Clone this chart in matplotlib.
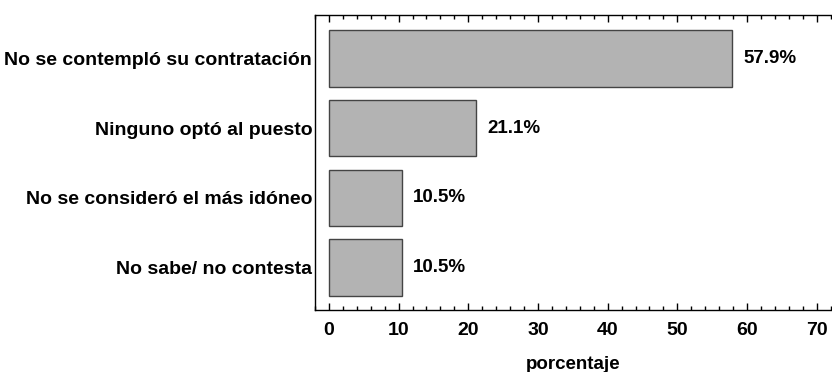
import matplotlib.pyplot as plt
from matplotlib.ticker import MultipleLocator

categories = ["No se contempló su contratación", "Ninguno optó al puesto",
              "No se consideró el más idóneo", "No sabe/ no contesta"]
values = [57.9, 21.1, 10.5, 10.5]
labels = ["57.9%", "21.1%", "10.5%", "10.5%"]

plt.rcParams['font.family'] = ['Liberation Sans', 'DejaVu Sans']
plt.rcParams['font.weight'] = 'bold'

fig = plt.figure(figsize=(8.32, 3.72), dpi=100)
ax = fig.add_axes([0.3786, 0.1667, 0.6214, 0.7938])

pos = list(range(len(categories)))
ax.barh(pos, values, height=0.81, color='#b3b3b3', edgecolor='#444444', linewidth=1)
for p, v, t in zip(pos, values, labels):
    ax.text(v + 1.6, p, t, va='center', ha='left', fontsize=13.5, fontweight='bold')

ax.set_xlim(-2.0, 72.2)
ax.set_ylim(3.61, -0.626)
ax.set_yticks(pos)
ax.set_yticklabels(categories, fontsize=14, fontweight='bold')
ax.tick_params(axis='y', length=0, pad=2)

ax.xaxis.set_major_locator(MultipleLocator(10))
ax.xaxis.set_minor_locator(MultipleLocator(2))
ax.tick_params(axis='x', which='major', direction='in', length=5, width=1, top=True, labelsize=14, pad=9)
ax.tick_params(axis='x', which='minor', direction='in', length=3, width=1, top=True)
for lab in ax.get_xticklabels():
    lab.set_fontweight('bold')

ax.spines['right'].set_visible(False)
for s in ['left', 'top', 'bottom']:
    ax.spines[s].set_linewidth(1)

ax.set_xlabel("porcentaje", fontsize=13.5, fontweight='bold', labelpad=12)

fig.savefig('out.png', dpi=100)
